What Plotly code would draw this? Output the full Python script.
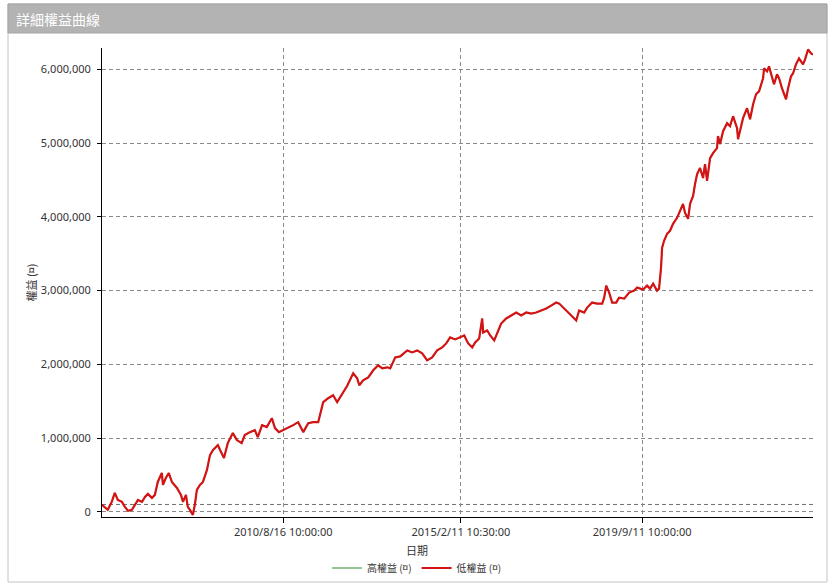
import plotly.graph_objects as go

# ---------------- data ----------------
dates = [
    "2006-01-16", "2006-02-13", "2006-03-10", "2006-04-16", "2006-05-14", "2006-06-11",
    "2006-07-19", "2006-08-15", "2006-09-13", "2006-10-19", "2006-11-16", "2006-12-14",
    "2007-01-20", "2007-02-17", "2007-03-15", "2007-04-22", "2007-05-19", "2007-06-15",
    "2007-07-22", "2007-08-02", "2007-08-28", "2007-09-25", "2007-10-23", "2007-12-09",
    "2008-01-15", "2008-02-03", "2008-03-01", "2008-03-18", "2008-04-07", "2008-05-04",
    "2008-05-22", "2008-06-10", "2008-07-08", "2008-08-05", "2008-09-11", "2008-10-09",
    "2008-11-06", "2008-12-21", "2009-01-10", "2009-02-15", "2009-03-22", "2009-05-08",
    "2009-06-14", "2009-07-28", "2009-08-26", "2009-10-12", "2009-11-27", "2009-12-24",
    "2010-02-02", "2010-03-17", "2010-05-03", "2010-06-01", "2010-07-07", "2010-08-16",
    "2010-10-01", "2010-11-16", "2011-01-01", "2011-02-17", "2011-04-04", "2011-05-20",
    "2011-07-05", "2011-08-02", "2011-08-20", "2011-10-05", "2011-11-20", "2011-12-27",
    "2012-02-02", "2012-03-29", "2012-05-23", "2012-06-29", "2012-07-18", "2012-08-23",
    "2012-10-09", "2012-11-24", "2013-01-09", "2013-02-15", "2013-04-02", "2013-04-30",
    "2013-06-15", "2013-07-31", "2013-10-04", "2013-11-19", "2014-01-04", "2014-02-19",
    "2014-04-06", "2014-05-22", "2014-07-07", "2014-08-23", "2014-09-29", "2014-11-04",
    "2014-12-21", "2015-02-05", "2015-03-14", "2015-04-20", "2015-05-27", "2015-06-23",
    "2015-07-30", "2015-08-27", "2015-09-05", "2015-10-12", "2015-11-09", "2015-12-16",
    "2016-01-12", "2016-02-18", "2016-04-04", "2016-05-21", "2016-07-06", "2016-08-21",
    "2016-10-06", "2016-11-21", "2017-01-06", "2017-02-22", "2017-04-09", "2017-05-25",
    "2017-07-10", "2017-08-07", "2017-09-22", "2017-11-07", "2017-12-23", "2018-01-11",
    "2018-02-07", "2018-03-25", "2018-04-22", "2018-06-07", "2018-07-23", "2018-09-08",
    "2018-09-26", "2018-10-15", "2018-11-11", "2018-12-09", "2019-01-15", "2019-02-11",
    "2019-03-30", "2019-05-15", "2019-06-30", "2019-07-28", "2019-09-20", "2019-10-27",
    "2019-11-24", "2019-12-22", "2020-01-27", "2020-02-15", "2020-03-04", "2020-03-14",
    "2020-04-01", "2020-04-29", "2020-05-26", "2020-06-23", "2020-07-30", "2020-08-27",
    "2020-09-23", "2020-10-12", "2020-11-09", "2020-11-27", "2020-12-25", "2021-01-12",
    "2021-01-31", "2021-02-27", "2021-03-27", "2021-04-14", "2021-05-03", "2021-05-31",
    "2021-06-27", "2021-08-03", "2021-08-12", "2021-08-31", "2021-09-28", "2021-11-04",
    "2021-12-01", "2021-12-29", "2022-02-04", "2022-02-13", "2022-03-13", "2022-03-31",
    "2022-05-07", "2022-06-04", "2022-07-02", "2022-07-29", "2022-08-26", "2022-10-02",
    "2022-10-11", "2022-11-08", "2022-11-26", "2022-12-24", "2023-01-11", "2023-02-08",
    "2023-02-27", "2023-03-26", "2023-04-14", "2023-05-02", "2023-05-21", "2023-06-17",
    "2023-07-06", "2023-08-02", "2023-08-30", "2023-10-06", "2023-10-25", "2023-11-21",
    "2023-12-19", "2024-01-06",
]

low_equity = [
    95000, 54000, 27000, 135000, 257000, 162000,
    135000, 68000, 14000, 27000, 95000, 162000,
    135000, 203000, 243000, 189000, 230000, 405000,
    527000, 365000, 459000, 527000, 405000, 324000,
    230000, 135000, 230000, 68000, 27000, -41000,
    95000, 297000, 365000, 405000, 568000, 770000,
    838000, 905000, 838000, 730000, 932000, 1068000,
    973000, 932000, 1041000, 1081000, 1108000, 1014000,
    1176000, 1149000, 1270000, 1135000, 1081000, 1108000,
    1149000, 1176000, 1216000, 1081000, 1203000, 1216000,
    1216000, 1378000, 1487000, 1541000, 1581000, 1487000,
    1581000, 1710000, 1878000, 1811000, 1716000, 1784000,
    1824000, 1919000, 1987000, 1946000, 1960000, 1946000,
    2095000, 2108000, 2189000, 2162000, 2189000, 2149000,
    2054000, 2095000, 2189000, 2230000, 2284000, 2365000,
    2338000, 2365000, 2392000, 2284000, 2230000, 2297000,
    2351000, 2622000, 2433000, 2460000, 2392000, 2324000,
    2419000, 2554000, 2622000, 2662000, 2703000, 2662000,
    2703000, 2689000, 2703000, 2730000, 2757000, 2797000,
    2838000, 2824000, 2757000, 2703000, 2635000, 2595000,
    2730000, 2703000, 2770000, 2838000, 2824000, 2824000,
    2905000, 3068000, 2973000, 2838000, 2838000, 2905000,
    2892000, 2973000, 3000000, 3041000, 3014000, 3068000,
    3027000, 3095000, 3000000, 3027000, 3311000, 3581000,
    3676000, 3770000, 3811000, 3906000, 3987000, 4081000,
    4176000, 4054000, 3973000, 4176000, 4284000, 4446000,
    4581000, 4662000, 4527000, 4716000, 4487000, 4797000,
    4865000, 4933000, 5095000, 4987000, 5162000, 5270000,
    5230000, 5365000, 5203000, 5054000, 5257000, 5338000,
    5473000, 5324000, 5527000, 5662000, 5703000, 5879000,
    6014000, 5973000, 6041000, 5906000, 5798000, 5933000,
    5879000, 5743000, 5662000, 5595000, 5743000, 5906000,
    5946000, 6068000, 6149000, 6068000, 6135000, 6270000,
    6216000, 6203000,
]

# the high-equity series sits underneath the low one at this scale
high_equity = list(low_equity)

x_tick_dates = ["2010-08-16 10:00:00", "2015-02-11 10:30:00", "2019-09-11 10:00:00"]
x_tick_labels = ["2010/8/16 10:00:00", "2015/2/11 10:30:00", "2019/9/11 10:00:00"]
y_ticks = [0, 1000000, 2000000, 3000000, 4000000, 5000000, 6000000]
initial_capital = 100000
x_range = ["2006-01-16", "2024-01-06"]
y_range = [-70000, 6290000]

# ---------------- layout geometry ----------------
W, H = 835, 587
L, R, T, B = 102, 22, 48, 70
PW, PH = W - L - R, H - T - B


def px(xp):
    return (xp - L) / PW


def py(yp):
    return (H - B - yp) / PH


FONT = "Noto Sans, Noto Sans CJK TC, sans-serif"
CJK = "Noto Sans CJK TC, Noto Sans, sans-serif"

fig = go.Figure()
fig.add_trace(go.Scatter(
    x=dates, y=high_equity, mode="lines", name="高權益 (¤)",
    line=dict(color="#2e8b2e", width=1.2),
))
fig.add_trace(go.Scatter(
    x=dates, y=low_equity, mode="lines", name="低權益 (¤)",
    line=dict(color="#d41414", width=2.2),
))

shapes = [
    # outer frame
    dict(type="rect", xref="paper", yref="paper", x0=px(8), x1=px(827), y0=py(582), y1=py(4),
         line=dict(color="#c4c4c4", width=1), fillcolor="rgba(0,0,0,0)", layer="below"),
    # title bar
    dict(type="rect", xref="paper", yref="paper", x0=px(8), x1=px(827), y0=py(33), y1=py(4),
         line=dict(color="#a3a3a3", width=1), fillcolor="#b3b3b3", layer="below"),
    # initial-capital reference line
    dict(type="line", xref="paper", yref="y", x0=0, x1=1, y0=initial_capital, y1=initial_capital,
         line=dict(color="#6e6e6e", width=1, dash="4px,3px"), layer="below"),
]

annotations = [
    dict(text="詳細權益曲線", xref="paper", yref="paper", x=px(14), y=py(18.5),
         xanchor="left", yanchor="middle", showarrow=False,
         font=dict(family=CJK, size=14, color="white")),
    dict(text="日期", xref="paper", yref="paper", x=px(417), y=py(550),
         xanchor="center", yanchor="middle", showarrow=False,
         font=dict(family=CJK, size=11, color="#333333")),
]

fig.update_layout(
    width=W, height=H,
    margin=dict(l=L, r=R, t=T, b=B, pad=0, autoexpand=False),
    paper_bgcolor="white", plot_bgcolor="white",
    font=dict(family=FONT, size=11, color="#333333"),
    shapes=shapes,
    annotations=annotations,
    showlegend=True,
    legend=dict(orientation="h", xref="container", yref="container",
                x=417 / W, xanchor="center", y=(H - 568) / H, yanchor="middle",
                font=dict(family=CJK, size=10, color="#333333"), itemwidth=30,
                bgcolor="rgba(0,0,0,0)"),
    xaxis=dict(
        type="date", range=x_range,
        tickmode="array", tickvals=x_tick_dates, ticktext=x_tick_labels,
        showgrid=True, gridcolor="#8a8a8a", gridwidth=1, griddash="4px,3px",
        showline=True, linecolor="black", linewidth=1,
        ticks="outside", ticklen=5, tickcolor="black",
        tickfont=dict(size=11, color="#333333"),
        zeroline=False, automargin=False,
    ),
    yaxis=dict(
        range=y_range,
        tickmode="array", tickvals=y_ticks, tickformat=",d",
        showgrid=True, gridcolor="#8a8a8a", gridwidth=1, griddash="4px,3px",
        showline=True, linecolor="black", linewidth=1,
        ticks="outside", ticklen=4, tickcolor="black",
        ticklabelstandoff=4,
        tickfont=dict(size=11, color="#333333"),
        zeroline=False, automargin=False,
        title=dict(text="權益 (¤)", font=dict(family=CJK, size=11, color="#333333"), standoff=1),
    ),
)

fig.write_html("out.html")
